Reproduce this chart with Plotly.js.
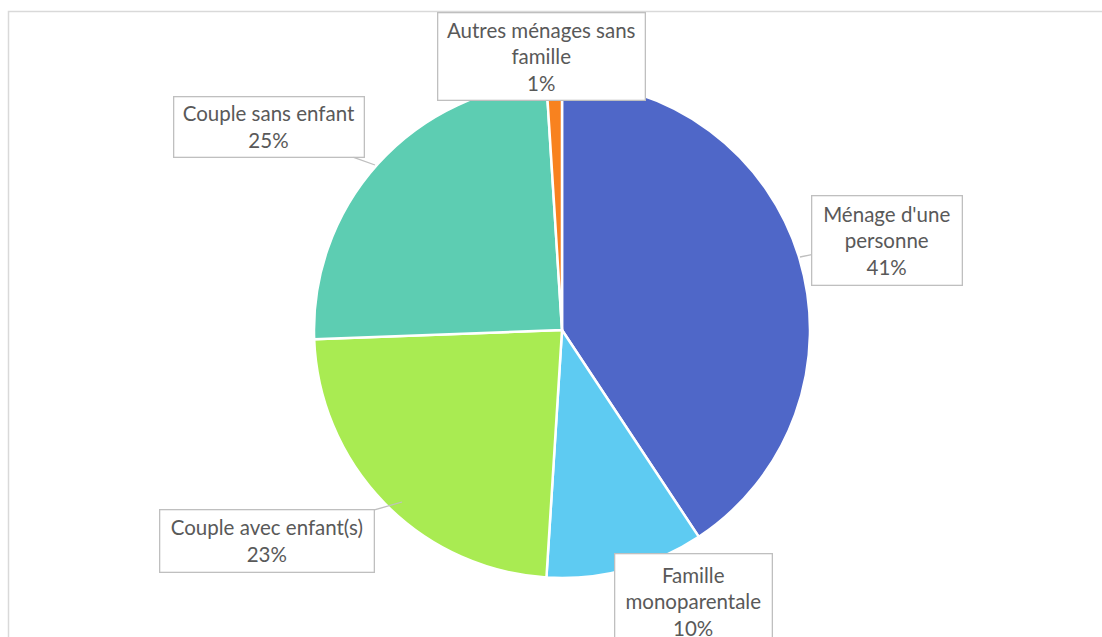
<!DOCTYPE html>
<html>
<head>
<meta charset="utf-8">
<script src="https://cdn.plot.ly/plotly-3.0.1.min.js"></script>
<style>
  body { margin: 0; padding: 0; background: #fff; }
  #chart { width: 1102px; height: 637px; }
</style>
</head>
<body>
<div id="chart"></div>
<script>
// household types, clockwise from 12 o'clock
var categories = ["Ménage d'une personne", "Famille monoparentale", "Couple avec enfant(s)", "Couple sans enfant", "Autres ménages sans famille"];
var boxLabels = ["Ménage d'une<br>personne", "Famille<br>monoparentale", "Couple avec enfant(s)", "Couple sans enfant", "Autres ménages sans<br>famille"];
var shares = [40.7, 10.3, 23.4, 24.6, 1.0];
var colors = ['#4f67c8', '#5ecbf2', '#a9eb52', '#5dcdb2', '#f8821f'];

var W = 1102, H = 637;
function px(x) { return x / W; }
function py(y) { return 1 - y / H; }

var total = shares.reduce(function (a, b) { return a + b; }, 0);
function pct(i) { return Math.round(shares[i] / total * 100) + '%'; }

var trace = {
  type: 'pie',
  labels: categories,
  values: shares,
  sort: false,
  direction: 'clockwise',
  rotation: 0,
  textinfo: 'none',
  hoverinfo: 'label+percent',
  marker: { colors: colors, line: { color: '#ffffff', width: 2.5 } },
  domain: { x: [px(314), px(810)], y: [py(578), py(82)] },
  showlegend: false
};

// callout boxes: [tipX, tipY, boxCenterX, boxCenterY, boxW, boxH, arrow]
var boxes = [
  [800, 257, 887, 240, 151, 90, true],
  [693, 601, 693, 601, 158, 96, false],
  [402, 502, 267, 541, 215, 63, true],
  [375, 165, 269, 127, 191, 61, true],
  [541, 56, 541, 56, 208, 88, false]
];

var annotations = boxes.map(function (b, i) {
  return {
    xref: 'paper', yref: 'paper',
    x: px(b[0]), y: py(b[1]),
    ax: b[2] - b[0], ay: b[3] - b[1],
    axref: 'pixel', ayref: 'pixel',
    xanchor: 'center', yanchor: 'middle',
    showarrow: b[6],
    arrowhead: 0, arrowwidth: 1.3, arrowcolor: '#bfbfbf',
    text: boxLabels[i] + '<br>' + pct(i),
    font: { family: 'Lato, "Open Sans", sans-serif', size: 20.5, color: '#595959' },
    align: 'center',
    bgcolor: '#ffffff',
    bordercolor: '#bfbfbf', borderwidth: 1.3, borderpad: 2,
    width: b[4] - 6, height: b[5] - 6,
    valign: 'middle'
  };
});

var layout = {
  width: W, height: H,
  margin: { l: 0, r: 0, t: 0, b: 0 },
  paper_bgcolor: '#ffffff',
  annotations: annotations,
  shapes: [{
    type: 'rect', xref: 'paper', yref: 'paper',
    x0: px(8.5), x1: px(1200), y0: py(700), y1: py(11.5),
    line: { color: '#d9d9d9', width: 1.5 }
  }]
};

Plotly.newPlot('chart', [trace], layout, { displayModeBar: false, staticPlot: true });
</script>
</body>
</html>
